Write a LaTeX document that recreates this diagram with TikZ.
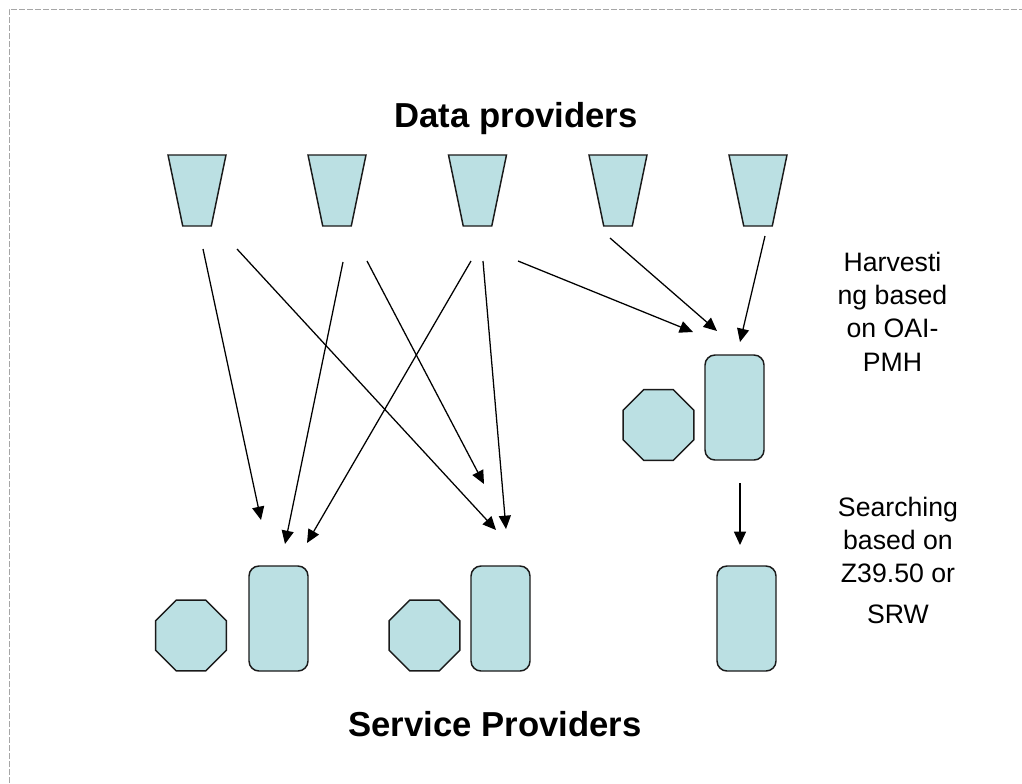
\documentclass[tikz,border=0pt]{standalone}
\usepackage{fontspec}
\setmainfont{Liberation Sans}
\usetikzlibrary{arrows.meta,shapes.geometric}
\definecolor{shapefill}{HTML}{BBE0E3}
\definecolor{edgeline}{HTML}{1A1A1A}
\definecolor{frameline}{HTML}{A6A6A6}
\tikzset{
  px/.style={x=0.75pt,y=-0.75pt},
  solid shape/.style={draw=edgeline,fill=shapefill,line width=1.1pt,inner sep=0pt,outer sep=0pt},
  bucket/.style={solid shape,trapezium,shape border rotate=180,trapezium stretches=true,
    trapezium left angle=64,trapezium right angle=64,minimum width=43.5pt,minimum height=53.25pt},
  server/.style={solid shape,rectangle,rounded corners=7.5pt,minimum width=44.25pt,minimum height=78.75pt},
  octa/.style={solid shape,regular polygon,regular polygon sides=8,minimum size=57.5pt},
  flow/.style={-{Triangle[length=10pt,width=9pt]},line width=0.95pt,black},
  frame/.style={draw=frameline,line width=0.75pt,dash pattern=on 4.5pt off 1.5pt},
  heading/.style={font=\bfseries\fontsize{26}{30}\selectfont,anchor=base,inner sep=0pt},
  note/.style={font=\fontsize{20}{24}\selectfont,anchor=base,inner sep=0pt},
}
\begin{document}
\begin{tikzpicture}[px]
\useasboundingbox (0,0) rectangle (1022,783);
\coordinate (fa) at (9,783); \coordinate (fb) at (9,9); \coordinate (fc) at (1022,9);
\draw[frame] (fa) -- (fb) -- (fc);

\node[heading] (dp) at (516,127) {Data providers};
\node[heading] (sp) at (495,736) {Service Providers};

\node[bucket] (d1) at (197,190.5) {\phantom{x}};
\node[bucket] (d2) at (337,190.5) {\phantom{x}};
\node[bucket] (d3) at (477.5,190.5) {\phantom{x}};
\node[bucket] (d4) at (618,190.5) {\phantom{x}};
\node[bucket] (d5) at (758,190.5) {\phantom{x}};

\node[server] (s1) at (278.5,618.5) {};
\node[server] (s2) at (500.5,618.5) {};
\node[server] (s3) at (746.5,618.5) {};
\node[server] (s4) at (734.5,407.5) {};
\node[octa] (o1) at (191,635.5) {};
\node[octa] (o2) at (424.5,635.5) {};
\node[octa] (o3) at (658.5,425) {};

\coordinate (a1s) at (203,249);  \coordinate (a1e) at (261,520);
\coordinate (a2s) at (237,249);  \coordinate (a2e) at (496,530);
\coordinate (a3s) at (343,262);  \coordinate (a3e) at (285,544);
\coordinate (a4s) at (367,261);  \coordinate (a4e) at (484,484);
\coordinate (a5s) at (471,261);  \coordinate (a5e) at (307,543);
\coordinate (a6s) at (483,261);  \coordinate (a6e) at (506,529);
\coordinate (a7s) at (518,261);  \coordinate (a7e) at (693,332);
\coordinate (a8s) at (610,238);  \coordinate (a8e) at (717,331);
\coordinate (a9s) at (765,236);  \coordinate (a9e) at (740,342);
\coordinate (a10s) at (740,483); \coordinate (a10e) at (740,545);
\foreach \n in {1,...,10} \draw[flow] (a\n s) -- (a\n e);

\node[note] (h1) at (892.5,271) {Harvesti};
\node[note] (h2) at (892.5,304) {ng based};
\node[note] (h3) at (892.5,337) {on OAI-};
\node[note] (h4) at (892.5,371) {PMH};
\node[note] (q1) at (898,516) {Searching};
\node[note] (q2) at (898,549) {based on};
\node[note] (q3) at (898,582) {Z39.50 or};
\node[note] (q4) at (898,623) {SRW};
\end{tikzpicture}
\end{document}
